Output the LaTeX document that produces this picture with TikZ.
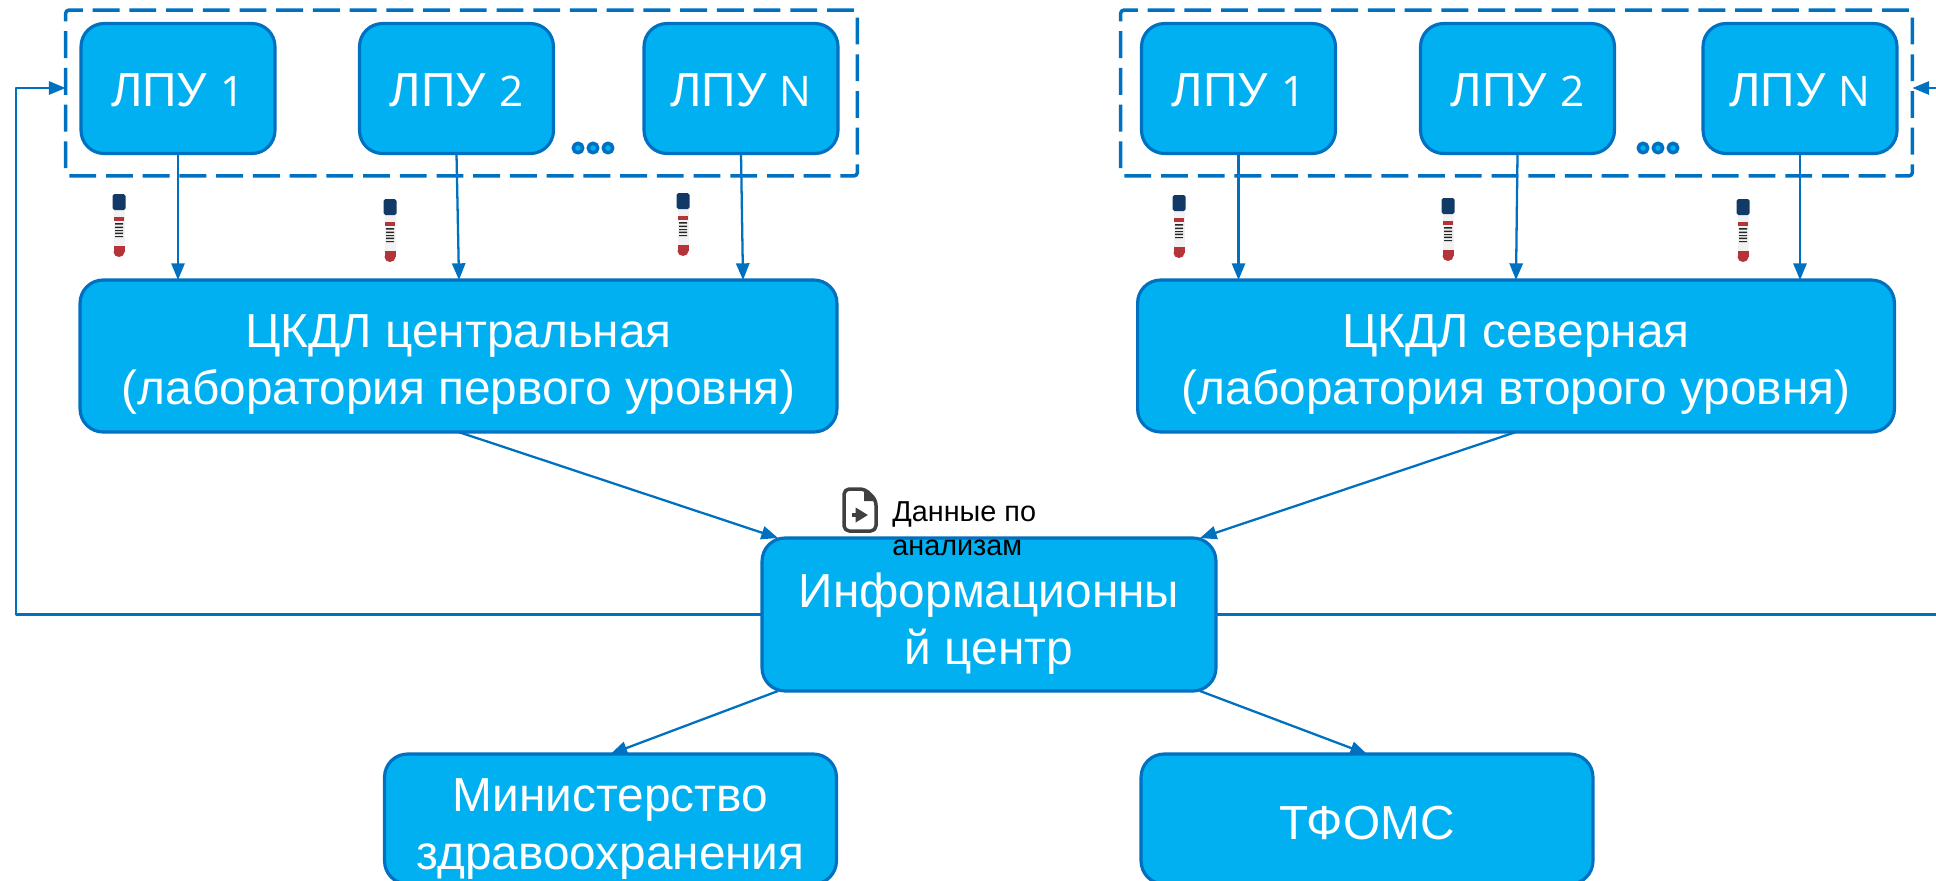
\documentclass[tikz,border=0pt]{standalone}
\usepackage{fontspec}
\setmainfont{Liberation Sans}
\newfontfamily\numfont{Open Sans}
\usetikzlibrary{arrows.meta}
\definecolor{boxfill}{HTML}{00B0F0}
\definecolor{boxline}{HTML}{0070C0}
\definecolor{tubecap}{HTML}{123A66}
\definecolor{tubered}{HTML}{B5343A}
\definecolor{icongray}{HTML}{404040}
\newcommand{\idx}[1]{{\numfont\fontsize{24}{28}\selectfont #1}}
\tikzset{
	box/.style={draw=boxline,fill=boxfill,line width=1.8pt,rounded corners=0.46cm,text=white,align=center,inner sep=0pt,outer sep=0pt,text height=55pt,text depth=0pt,font=\fontsize{27.2}{32.6}\selectfont},
	lpu/.style={box,text height=21pt,minimum width=3.88cm,minimum height=2.6cm},
	lab/.style={box,minimum width=15.14cm,minimum height=3.04cm},
	sink/.style={box,minimum width=9.04cm,minimum height=2.6cm},
	group/.style={draw=boxline,line width=2pt,dash pattern=on 15.3pt off 5.6pt,rounded corners=2pt,minimum width=15.84cm,minimum height=3.32cm,inner sep=0pt,outer sep=0pt},
	conn/.style={draw=boxline,line width=1.3pt,->},
	dot/.style={circle,draw=boxline,fill=boxfill,line width=2pt,minimum size=0.19cm,inner sep=0pt},
	tube/.pic={
		\fill[white!90!gray] (-5.5,14) rectangle (5.5,54);
		\fill[tubered] (-5.5,52) rectangle (5.5,58);
		\fill[tubered] (0,58) ellipse [x radius=5.5,y radius=5];
		\fill[tubered] (-5,23) rectangle (5,27);
		\fill[black!85] (-4,29) rectangle (4,30.5) (-4,32.5) rectangle (4,34) (-4,36) rectangle (4,37) (-4,38.5) rectangle (4,40) (-4,42) rectangle (4,43);
		\fill[tubecap,rounded corners=1pt] (-6.5,0) rectangle (6.5,16);
	},
	docicon/.pic={
		\draw[icongray,line width=2pt,line join=round,rounded corners=3pt] (1,1) -- (22,1) -- (33,12) -- (33,43) -- (1,43) -- cycle;
		\fill[icongray] (21,1) -- (33,13) -- (21,13) -- cycle;
		\draw[icongray,line width=2pt,-{Stealth[length=7pt,width=8pt,inset=0pt]}] (9,27) -- (25,27);
	},
}
\begin{document}
\begin{tikzpicture}[x=0.02cm,y=-0.02cm,line cap=butt,line join=round,>={Stealth[length=9.5pt,width=7.5pt,inset=0pt]}]
	\useasboundingbox (0,0) rectangle (1936,880);
	\clip (0,0) rectangle (1936,880);
	\node[group] (groupa) at (461.5,93) {};
	\node[group] (groupb) at (1516.5,93) {};
	% boxes
	\node[lpu] (lpua) at (178,88.5) {ЛПУ \idx{1}};
	\node[lpu] (lpub) at (456.5,88.5) {ЛПУ \idx{2}};
	\node[lpu] (lpuc) at (741,88.5) {ЛПУ \idx{N}};
	\node[lpu] (lpud) at (1238.5,88.5) {ЛПУ \idx{1}};
	\node[lpu] (lpue) at (1517.5,88.5) {ЛПУ \idx{2}};
	\node[lpu] (lpuf) at (1800,88.5) {ЛПУ \idx{N}};
	\node[lab] (cdla) at (458.5,356) {ЦКДЛ центральная\\(лаборатория первого уровня)};
	\node[lab] (cdlb) at (1516,356) {ЦКДЛ северная\\(лаборатория второго уровня)};
	\node[box,text height=57pt,minimum width=9.08cm,minimum height=3.06cm] (info) at (989,614.5) {Информационны\\й центр};
	\node[sink,text height=57pt] (minzdrav) at (610.5,819) {Министерство\\здравоохранения};
	\node[sink,text height=23pt] (tfoms) at (1367,819) {ТФОМС};
	% dots between boxes
	\foreach \n/\x in {a/578,b/593,c/608,d/1643,e/1658,f/1673}
		\node[dot] (dot\n) at (\x,148) {};
	% arrows
	\coordinate (inb) at (459,280);
	\coordinate (inc) at (743,280);
	\coordinate (ine) at (1516,280);
	\draw[conn] (lpua.south) -- (lpua.south |- cdla.north);
	\draw[conn] (lpub.south) -- (inb);
	\draw[conn] (lpuc.south) -- (inc);
	\draw[conn] (lpud.south) -- (lpud.south |- cdlb.north);
	\draw[conn] (lpue.south) -- (ine);
	\draw[conn] (lpuf.south) -- (lpuf.south |- cdlb.north);
	\draw[conn] (cdla.south) -- ([xshift=0.32cm]info.north west);
	\draw[conn] (cdlb.south) -- ([xshift=-0.32cm]info.north east);
	\draw[conn] ([xshift=0.32cm]info.south west) -- (minzdrav.north);
	\draw[conn] ([xshift=-0.32cm]info.south east) -- (tfoms.north);
	\coordinate (loopl) at (16,88);
	\coordinate (loopr) at (1960,88);
	\draw[conn] (info.west) -| (loopl) -- (groupa.west |- loopl);
	\draw[conn] (info.east) -| (loopr) -- (groupb.east |- loopr);
	% tubes
	\foreach \n/\x/\y in {a/119/194,b/390/199,c/683/193,d/1179/195,e/1448/198,f/1743/199}
		\pic (tube\n) at (\x,\y) {tube};
	% data note
	\pic (doc) at (843,488) {docicon};
	\node[anchor=north west,align=left,inner sep=0pt,font=\fontsize{16.4}{19.8}\selectfont] (note) at (892,501) {Данные по\\анализам};
\end{tikzpicture}
\end{document}
